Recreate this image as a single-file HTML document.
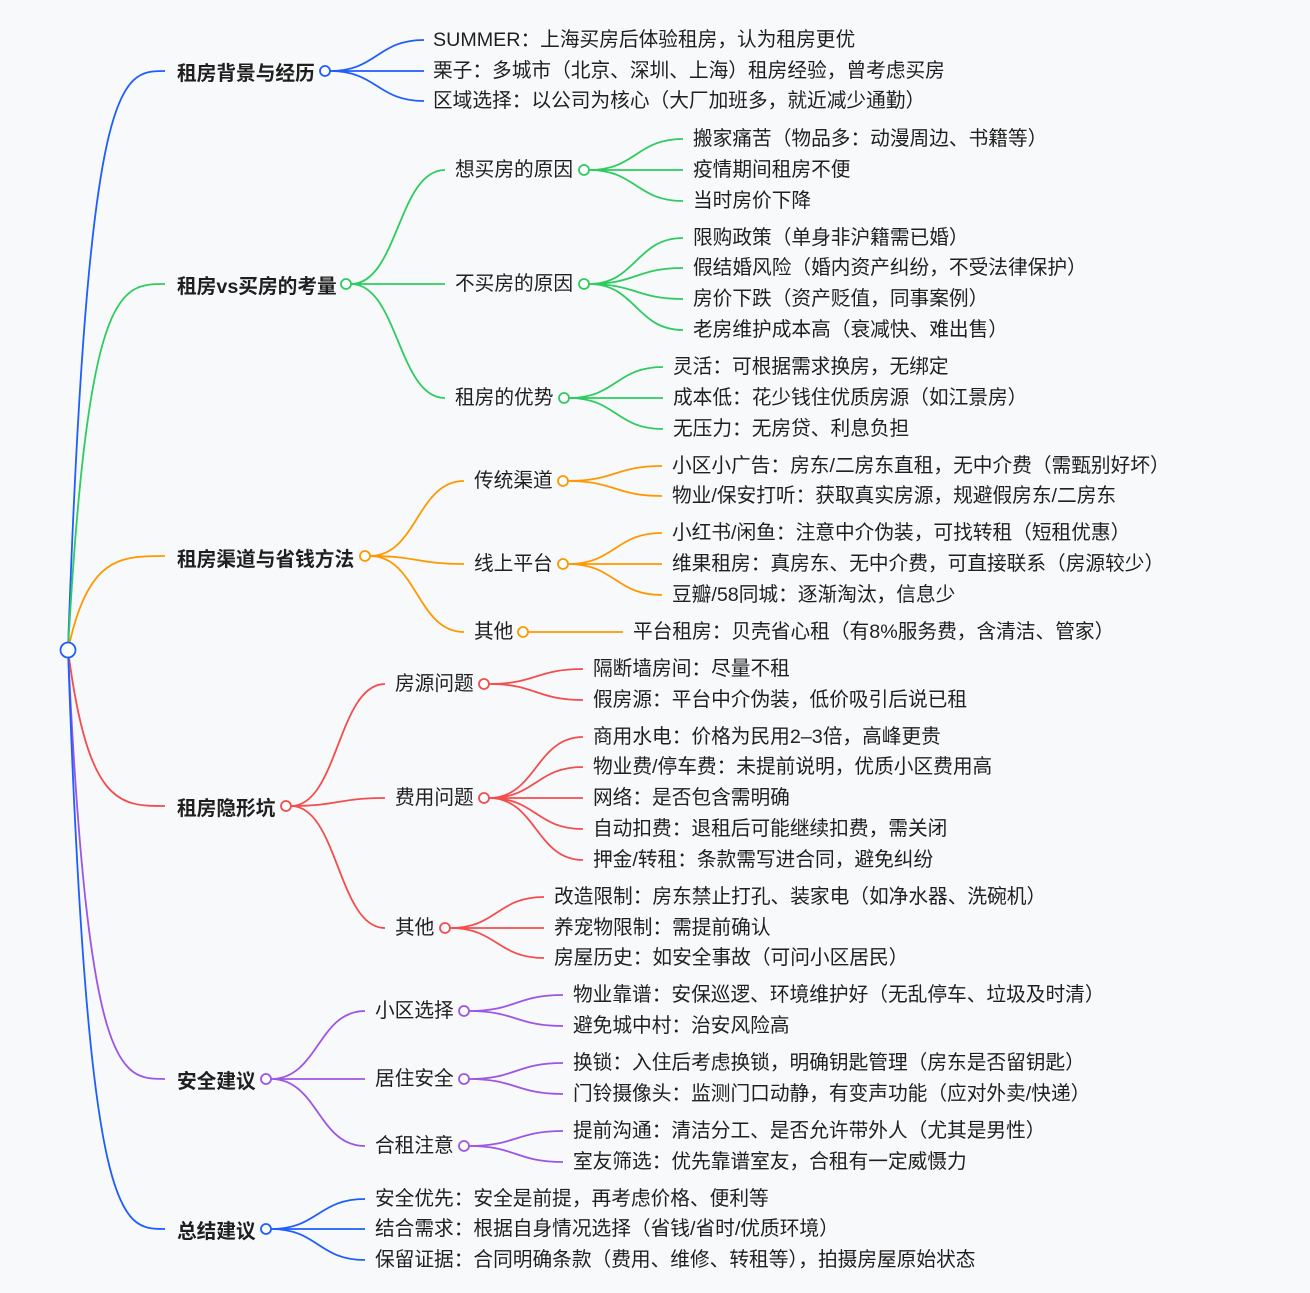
<!DOCTYPE html>
<html><head><meta charset="utf-8"><style>
html,body{margin:0;padding:0;background:#f8f9fb;}
svg{display:block}
text{font-family:"Liberation Sans","Noto Sans CJK SC",sans-serif;font-size:19.7px;fill:#1f1f1f;dominant-baseline:central}
.b{font-weight:bold}
path{fill:none;stroke-width:1.8}
circle{fill:#fff;stroke-width:1.8}
</style></head><body>
<svg width="1310" height="1293" viewBox="0 0 1310 1293" xmlns="http://www.w3.org/2000/svg">
<g stroke="#1e5eff">
<path d="M68 650 C88 71,120 71,165 71"/>
<path d="M330 71 C377 71,377 40,424 40 M330 71 L424 71 M330 71 C377 71,377 101,424 101"/>
<circle cx="325" cy="71" r="5"/>
</g>
<text class="b" x="177" y="74">租房背景与经历</text>
<text x="433" y="40">SUMMER：上海买房后体验租房，认为租房更优</text>
<text x="433" y="71">栗子：多城市（北京、深圳、上海）租房经验，曾考虑买房</text>
<text x="433" y="101">区域选择：以公司为核心（大厂加班多，就近减少通勤）</text>

<g stroke="#2ecc5f">
<path d="M68 650 C88 284,120 284,165 284"/>
<path d="M351 284 C398 284,398 170,445 170 M351 284 L445 284 M351 284 C398 284,398 398,445 398"/>
<path d="M589 170 C636 170,636 139,683 139 M589 170 L683 170 M589 170 C636 170,636 201,683 201"/>
<path d="M589 284 C636 284,636 238,683 238 M589 284 C636 284,636 268,683 268 M589 284 C636 284,636 299,683 299 M589 284 C636 284,636 330,683 330"/>
<path d="M569 398 C616 398,616 367,663 367 M569 398 L663 398 M569 398 C616 398,616 429,663 429"/>
<circle cx="346" cy="284" r="5"/><circle cx="584" cy="170" r="5"/><circle cx="584" cy="284" r="5"/><circle cx="564" cy="398" r="5"/>
</g>
<text class="b" x="177" y="287">租房vs买房的考量</text>
<text x="455" y="170">想买房的原因</text>
<text x="455" y="284">不买房的原因</text>
<text x="455" y="398">租房的优势</text>
<text x="693" y="139">搬家痛苦（物品多：动漫周边、书籍等）</text>
<text x="693" y="170">疫情期间租房不便</text>
<text x="693" y="201">当时房价下降</text>
<text x="693" y="238">限购政策（单身非沪籍需已婚）</text>
<text x="693" y="268">假结婚风险（婚内资产纠纷，不受法律保护）</text>
<text x="693" y="299">房价下跌（资产贬值，同事案例）</text>
<text x="693" y="330">老房维护成本高（衰减快、难出售）</text>
<text x="673" y="367">灵活：可根据需求换房，无绑定</text>
<text x="673" y="398">成本低：花少钱住优质房源（如江景房）</text>
<text x="673" y="429">无压力：无房贷、利息负担</text>

<g stroke="#ff9800">
<path d="M68 650 C88 556,120 556,165 556"/>
<path d="M370 556 C417 556,417 481,464 481 M370 556 C417 556,417 564,464 564 M370 556 C417 556,417 632,464 632"/>
<path d="M568 481 C615 481,615 466,662 466 M568 481 C615 481,615 496,662 496"/>
<path d="M568 564 C615 564,615 533,662 533 M568 564 L662 564 M568 564 C615 564,615 595,662 595"/>
<path d="M528 632 L623 632"/>
<circle cx="365" cy="556" r="5"/><circle cx="563" cy="481" r="5"/><circle cx="563" cy="564" r="5"/><circle cx="523" cy="632" r="5"/>
</g>
<text class="b" x="177" y="560">租房渠道与省钱方法</text>
<text x="474" y="481">传统渠道</text>
<text x="474" y="564">线上平台</text>
<text x="474" y="632">其他</text>
<text x="672" y="466">小区小广告：房东/二房东直租，无中介费（需甄别好坏）</text>
<text x="672" y="496">物业/保安打听：获取真实房源，规避假房东/二房东</text>
<text x="672" y="533">小红书/闲鱼：注意中介伪装，可找转租（短租优惠）</text>
<text x="672" y="564">维果租房：真房东、无中介费，可直接联系（房源较少）</text>
<text x="672" y="595">豆瓣/58同城：逐渐淘汰，信息少</text>
<text x="633" y="632">平台租房：贝壳省心租（有8%服务费，含清洁、管家）</text>

<g stroke="#f44d4d">
<path d="M68 650 C88 806,120 806,165 806"/>
<path d="M291 806 C338 806,338 684,385 684 M291 806 C338 806,338 798,385 798 M291 806 C338 806,338 928,385 928"/>
<path d="M489 684 C536 684,536 669,583 669 M489 684 C536 684,536 700,583 700"/>
<path d="M489 798 C536 798,536 737,583 737 M489 798 C536 798,536 767,583 767 M489 798 L583 798 M489 798 C536 798,536 829,583 829 M489 798 C536 798,536 860,583 860"/>
<path d="M450 928 C497 928,497 897,544 897 M450 928 L544 928 M450 928 C497 928,497 958,544 958"/>
<circle cx="286" cy="806" r="5"/><circle cx="484" cy="684" r="5"/><circle cx="484" cy="798" r="5"/><circle cx="445" cy="928" r="5"/>
</g>
<text class="b" x="177" y="809">租房隐形坑</text>
<text x="395" y="684">房源问题</text>
<text x="395" y="798">费用问题</text>
<text x="395" y="928">其他</text>
<text x="593" y="669">隔断墙房间：尽量不租</text>
<text x="593" y="700">假房源：平台中介伪装，低价吸引后说已租</text>
<text x="593" y="737">商用水电：价格为民用2–3倍，高峰更贵</text>
<text x="593" y="767">物业费/停车费：未提前说明，优质小区费用高</text>
<text x="593" y="798">网络：是否包含需明确</text>
<text x="593" y="829">自动扣费：退租后可能继续扣费，需关闭</text>
<text x="593" y="860">押金/转租：条款需写进合同，避免纠纷</text>
<text x="554" y="897">改造限制：房东禁止打孔、装家电（如净水器、洗碗机）</text>
<text x="554" y="928">养宠物限制：需提前确认</text>
<text x="554" y="958">房屋历史：如安全事故（可问小区居民）</text>

<g stroke="#9d55e6">
<path d="M68 650 C88 1079,120 1079,165 1079"/>
<path d="M271 1079 C318 1079,318 1011,365 1011 M271 1079 L365 1079 M271 1079 C318 1079,318 1146,365 1146"/>
<path d="M469 1011 C516 1011,516 995,563 995 M469 1011 C516 1011,516 1026,563 1026"/>
<path d="M469 1079 C516 1079,516 1063,563 1063 M469 1079 C516 1079,516 1094,563 1094"/>
<path d="M469 1146 C516 1146,516 1131,563 1131 M469 1146 C516 1146,516 1162,563 1162"/>
<circle cx="266" cy="1079" r="5"/><circle cx="464" cy="1011" r="5"/><circle cx="464" cy="1079" r="5"/><circle cx="464" cy="1146" r="5"/>
</g>
<text class="b" x="177" y="1082">安全建议</text>
<text x="375" y="1011">小区选择</text>
<text x="375" y="1079">居住安全</text>
<text x="375" y="1146">合租注意</text>
<text x="573" y="995">物业靠谱：安保巡逻、环境维护好（无乱停车、垃圾及时清）</text>
<text x="573" y="1026">避免城中村：治安风险高</text>
<text x="573" y="1063">换锁：入住后考虑换锁，明确钥匙管理（房东是否留钥匙）</text>
<text x="573" y="1094">门铃摄像头：监测门口动静，有变声功能（应对外卖/快递）</text>
<text x="573" y="1131">提前沟通：清洁分工、是否允许带外人（尤其是男性）</text>
<text x="573" y="1162">室友筛选：优先靠谱室友，合租有一定威慑力</text>

<g stroke="#1e5eff">
<path d="M68 650 C88 1229,120 1229,165 1229"/>
<path d="M271 1229 C318 1229,318 1199,365 1199 M271 1229 L365 1229 M271 1229 C318 1229,318 1260,365 1260"/>
<circle cx="266" cy="1229" r="5"/>
<circle cx="68" cy="650" r="7.5" stroke-width="2"/>
</g>
<text class="b" x="177" y="1232">总结建议</text>
<text x="375" y="1199">安全优先：安全是前提，再考虑价格、便利等</text>
<text x="375" y="1229">结合需求：根据自身情况选择（省钱/省时/优质环境）</text>
<text x="375" y="1260">保留证据：合同明确条款（费用、维修、转租等），拍摄房屋原始状态</text>
</svg>
</body></html>
